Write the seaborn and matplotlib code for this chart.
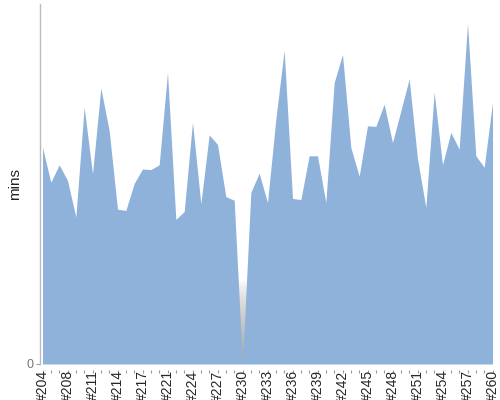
import numpy as np
import pandas as pd
import matplotlib
matplotlib.use("Agg")
import matplotlib.pyplot as plt
import seaborn as sns

# build numbers (207 and 220 are missing from the run)
builds = [b for b in range(204, 261) if b not in (207, 220)]
build_labels = ["#%d" % b for b in builds]

# build duration in minutes
mins = [36.1, 30.3, 33.2, 30.6, 24.5, 42.8, 31.7, 46.0, 38.9, 25.8,
        25.6, 30.1, 32.5, 32.4, 33.2, 48.6, 24.1, 25.4, 40.3, 26.7,
        38.2, 36.6, 27.9, 27.3, 0.0, 28.6, 31.8, 26.9, 40.8, 52.3,
        27.6, 27.4, 34.7, 34.7, 26.9, 46.9, 51.6, 36.1, 31.3, 39.7,
        39.6, 43.3, 36.9, 42.2, 47.5, 34.2, 26.1, 45.3, 33.2, 38.6,
        35.8, 56.8, 34.7, 32.8, 43.6]

df = pd.DataFrame({"build": build_labels, "mins": mins})
df["pos"] = np.arange(len(df))

sns.set_style("white")
plt.rcParams["font.family"] = ["Liberation Sans", "DejaVu Sans"]

fig = plt.figure(figsize=(5, 4), dpi=100)
ax = fig.add_axes([0.08, 0.09, 0.905, 0.9])

# grey shading where the area drops to zero
grad = np.linspace(0, 1, 100).reshape(-1, 1) ** 0.7
gmap = matplotlib.colors.LinearSegmentedColormap.from_list("g", ["#ffffff", "#a6a6a6"])
ax.imshow(grad, extent=(df["pos"][24] - 0.5, df["pos"][24] + 0.5, 0, 14),
          cmap=gmap, origin="upper", aspect="auto", zorder=1)

sns.lineplot(data=df, x="pos", y="mins", ax=ax, color="#8FB2DA", linewidth=0)
ax.fill_between(df["pos"], 0, df["mins"], color="#8FB2DA", linewidth=0, zorder=2)

ax.set_xlim(-0.3, len(df) - 1)
ax.set_ylim(0, 60)

ax.set_xticks(df["pos"].tolist(), minor=True)
ax.set_xticks(df["pos"].tolist()[::3])
ax.set_xticklabels(df["build"].tolist()[::3], fontsize=7.5, color="#111111")
ax.set_yticks([0])
ax.set_yticklabels(["0"], fontsize=9, color="#777777")
ax.set_xlabel("")
ax.set_ylabel("mins", fontsize=11, color="#222222", labelpad=3)

for s in ["top", "right"]:
    ax.spines[s].set_visible(False)
ax.spines["left"].set_color("#bbbbbb")
ax.spines["left"].set_linewidth(1)
ax.spines["bottom"].set_position(("outward", 4))
ax.spines["bottom"].set_color("none")

ax.tick_params(axis="x", which="both", direction="out", length=2.5, width=0.8,
               color="#999999", pad=-2, bottom=True, labelrotation=90)
ax.tick_params(axis="y", direction="out", length=3, width=0.8, color="#999999", pad=2, left=True)

fig.savefig("out.png", dpi=100)
